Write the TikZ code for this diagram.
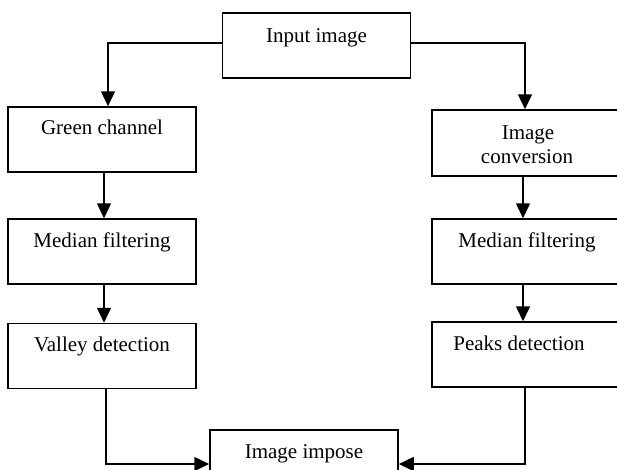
\documentclass[tikz,border=0pt]{standalone}
\usepackage{fontspec}
\setmainfont{Liberation Serif}
\usetikzlibrary{arrows.meta}

\begin{document}
\begin{tikzpicture}[x=1pt,y=-1pt,
  box/.style={draw,line width=1.5pt,minimum width=188pt,minimum height=65pt,inner sep=0pt},
  lbl/.style={font=\fontsize{21}{24}\selectfont,align=center,inner sep=0pt,text height=14pt,text depth=5pt},
  flow/.style={line width=1.5pt,-{Triangle[length=15pt,width=14pt]}}]
  \useasboundingbox (0,0) rectangle (617,469);
  \clip (0,0) rectangle (617,469);

  % boxes
  \node[box] (in)     at (316.5,45.5) {};
  \node[box] (green)  at (102,139.5)  {};
  \node[box] (medl)   at (102,251.5)  {};
  \node[box] (valley) at (102,356)    {};
  \node[box,minimum height=66pt] (conv) at (526,143) {};
  \node[box] (medr)   at (526,251.5)  {};
  \node[box] (peaks)  at (526,354.5)  {};
  \node[box] (impose) at (304,462.5)  {};

  % labels, set in the upper part of each box
  \node[lbl] (tin)     at (316.5,38) {Input image};
  \node[lbl] (tgreen)  at (102,130)  {Green channel};
  \node[lbl] (tmedl)   at (102,243)  {Median filtering};
  \node[lbl] (tvalley) at (102,347)  {Valley detection};
  \node[lbl] (tconv1)  at (528,135)  {Image};
  \node[lbl] (tconv2)  at (527,159)  {conversion};
  \node[lbl] (tmedr)   at (527,243)  {Median filtering};
  \node[lbl] (tpeaks)  at (519,346)  {Peaks detection};
  \node[lbl] (timpose) at (304,454)  {Image impose};

  % connectors
  \draw[flow] ([yshift=2.5pt]in.west) -| ([xshift=6pt]green.north);
  \draw[flow] ([yshift=2.5pt]in.east) -| ([xshift=-1pt]conv.north);
  \draw[flow] ([xshift=2pt]green.south) -- ([xshift=2pt]medl.north);
  \draw[flow] ([xshift=2pt]medl.south) -- ([xshift=2pt]valley.north);
  \draw[flow] ([xshift=-3pt]conv.south) -- ([xshift=-3pt]medr.north);
  \draw[flow] ([xshift=-3pt]medr.south) -- ([xshift=-3pt]peaks.north);
  \draw[flow] ([xshift=4pt]valley.south) |- ([yshift=-1.5pt]impose.west);
  \draw[flow] ([xshift=-1pt]peaks.south) |- ([yshift=-1.5pt]impose.east);
\end{tikzpicture}
\end{document}
